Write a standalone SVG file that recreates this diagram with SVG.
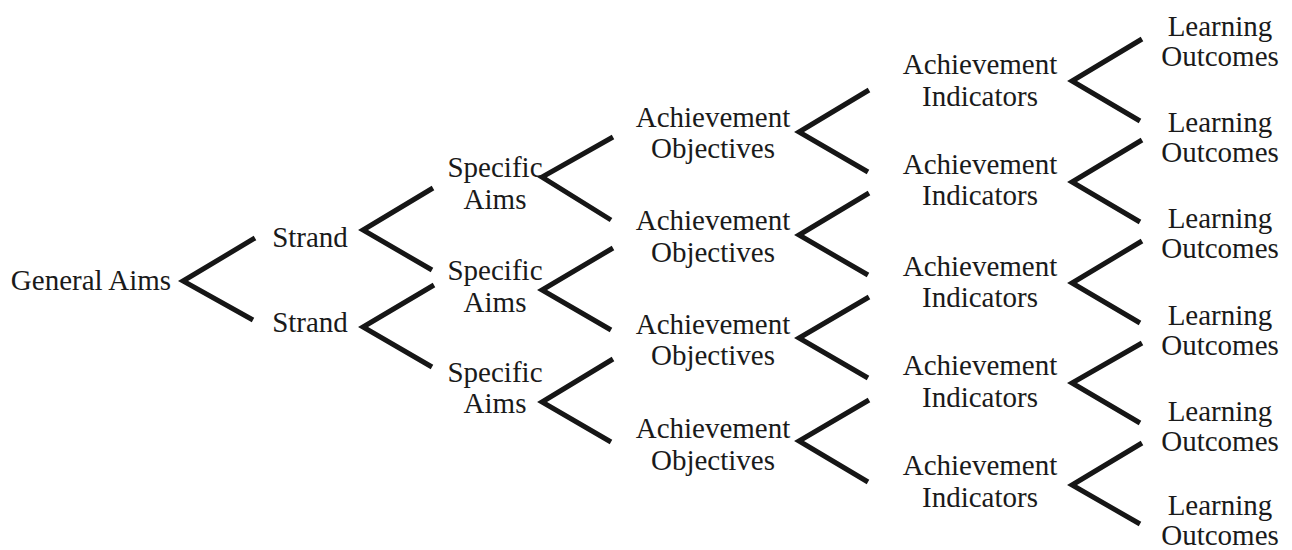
<svg xmlns="http://www.w3.org/2000/svg" width="1292" height="550" viewBox="0 0 1292 550">
<style>
  .lbl { font-family: "Liberation Serif", "Times New Roman", serif; font-size: 29px; fill: #1a1a1a; text-anchor: middle; }
  .br { fill: none; stroke: #161616; stroke-width: 5; stroke-linejoin: miter; stroke-miterlimit: 10; stroke-linecap: butt; }
</style>
<rect width="1292" height="550" fill="#ffffff"/>

<g id="connectors">
  <polyline class="br" points="255,238 183,281 253,320"/>
  <polyline class="br" points="433,188 363,230 432,270"/>
  <polyline class="br" points="434,285 363,327 432,367"/>
  <polyline class="br" points="613,137 542,177 611,220"/>
  <polyline class="br" points="613,248 542,290 611,330"/>
  <polyline class="br" points="613,359 542,402 611,442"/>
  <polyline class="br" points="869,90 799,132 868,172"/>
  <polyline class="br" points="869,193 799,235 868,275"/>
  <polyline class="br" points="869,297 799,338 868,378"/>
  <polyline class="br" points="869,400 799,441 868,482"/>
  <polyline class="br" points="1142,39 1072,81 1140,121"/>
  <polyline class="br" points="1142,140 1072,182 1140,222"/>
  <polyline class="br" points="1142,241 1072,283 1140,323"/>
  <polyline class="br" points="1142,343 1072,383 1140,423"/>
  <polyline class="br" points="1142,443 1072,485 1140,524"/>
</g>

<g id="general-aims"><text class="lbl" x="91" y="290">General Aims</text></g>

<g id="strand-1"><text class="lbl" x="310" y="247">Strand</text></g>
<g id="strand-2"><text class="lbl" x="310" y="332">Strand</text></g>

<g id="specific-aims-1"><text class="lbl" x="495" y="177">Specific</text><text class="lbl" x="495" y="209">Aims</text></g>
<g id="specific-aims-2"><text class="lbl" x="495" y="280">Specific</text><text class="lbl" x="495" y="312">Aims</text></g>
<g id="specific-aims-3"><text class="lbl" x="495" y="382">Specific</text><text class="lbl" x="495" y="413">Aims</text></g>

<g id="achievement-objectives-1"><text class="lbl" x="713" y="127">Achievement</text><text class="lbl" x="713" y="158">Objectives</text></g>
<g id="achievement-objectives-2"><text class="lbl" x="713" y="230">Achievement</text><text class="lbl" x="713" y="262">Objectives</text></g>
<g id="achievement-objectives-3"><text class="lbl" x="713" y="334">Achievement</text><text class="lbl" x="713" y="365">Objectives</text></g>
<g id="achievement-objectives-4"><text class="lbl" x="713" y="438">Achievement</text><text class="lbl" x="713" y="470">Objectives</text></g>

<g id="achievement-indicators-1"><text class="lbl" x="980" y="74">Achievement</text><text class="lbl" x="980" y="106">Indicators</text></g>
<g id="achievement-indicators-2"><text class="lbl" x="980" y="174">Achievement</text><text class="lbl" x="980" y="205">Indicators</text></g>
<g id="achievement-indicators-3"><text class="lbl" x="980" y="276">Achievement</text><text class="lbl" x="980" y="307">Indicators</text></g>
<g id="achievement-indicators-4"><text class="lbl" x="980" y="375">Achievement</text><text class="lbl" x="980" y="407">Indicators</text></g>
<g id="achievement-indicators-5"><text class="lbl" x="980" y="475">Achievement</text><text class="lbl" x="980" y="507">Indicators</text></g>

<g id="learning-outcomes-1"><text class="lbl" x="1220" y="36">Learning</text><text class="lbl" x="1220" y="66">Outcomes</text></g>
<g id="learning-outcomes-2"><text class="lbl" x="1220" y="132">Learning</text><text class="lbl" x="1220" y="162">Outcomes</text></g>
<g id="learning-outcomes-3"><text class="lbl" x="1220" y="228">Learning</text><text class="lbl" x="1220" y="258">Outcomes</text></g>
<g id="learning-outcomes-4"><text class="lbl" x="1220" y="325">Learning</text><text class="lbl" x="1220" y="355">Outcomes</text></g>
<g id="learning-outcomes-5"><text class="lbl" x="1220" y="421">Learning</text><text class="lbl" x="1220" y="451">Outcomes</text></g>
<g id="learning-outcomes-6"><text class="lbl" x="1220" y="515">Learning</text><text class="lbl" x="1220" y="545">Outcomes</text></g>
</svg>
